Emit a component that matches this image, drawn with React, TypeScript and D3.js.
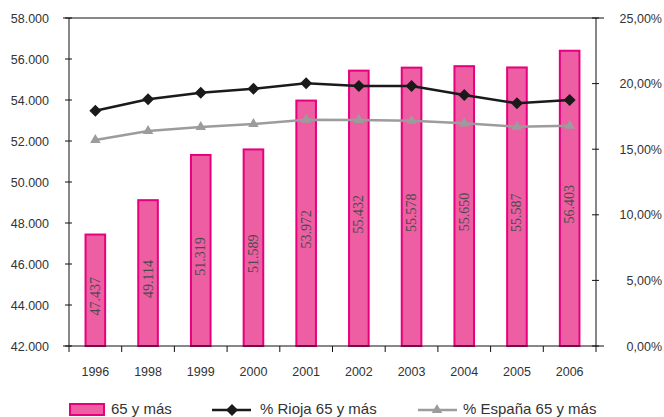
import React from "react";
import * as d3 from "d3";

const years = ["1996", "1998", "1999", "2000", "2001", "2002", "2003", "2004", "2005", "2006"];
const pop65 = [47437, 49114, 51319, 51589, 53972, 55432, 55578, 55650, 55587, 56403];
const rioja = [17.93, 18.8, 19.31, 19.61, 20.02, 19.82, 19.82, 19.13, 18.5, 18.75];
const espana = [15.7, 16.39, 16.69, 16.92, 17.25, 17.23, 17.17, 16.97, 16.72, 16.79];
const leftTicks = [42000, 44000, 46000, 48000, 50000, 52000, 54000, 56000, 58000];
const rightTicks = [0, 5, 10, 15, 20, 25];

const W = 664, H = 417;
const L = 69, R = 596, T = 18, B = 346;

const fmtThousands = (v: number) => {
  const s = Math.round(v).toString();
  return s.replace(/\B(?=(\d{3})+(?!\d))/g, ".");
};
const fmtPct = (v: number) => v.toFixed(2).replace(".", ",") + "%";

export default function App() {
  const x = d3.scaleBand<string>().domain(years).range([L, R]).paddingInner(0).paddingOuter(0);
  const yL = d3.scaleLinear().domain([42000, 58000]).range([B, T]);
  const yR = d3.scaleLinear().domain([0, 25]).range([B, T]);
  const bw = x.bandwidth() * 0.41;
  const cx = (y: string) => (x(y) as number) + x.bandwidth() / 2;

  const lineR = d3.line<number>().x((_, i) => cx(years[i])).y((d) => yR(d));
  const diamond = d3.symbol().type(d3.symbolSquare).size(72)();
  const tri = d3.symbol().type(d3.symbolTriangle).size(48)();

  const font = "'Liberation Sans', Arial, sans-serif";
  const textCol = "#333";
  const pinkFill = "#EE5EA2";
  const pinkStroke = "#E6007E";
  const grey = "#9c9c9c";

  return (
    <svg width={W} height={H} style={{ position: "absolute", left: 0, top: 0, background: "#fff" }}>
      {/* bars */}
      {pop65.map((v, i) => {
        const c = cx(years[i]);
        const top = yL(v);
        return (
          <g key={"b" + i}>
            <rect x={c - bw / 2 + 1} y={top} width={bw - 2} height={B - top} fill={pinkFill} stroke={pinkStroke} strokeWidth={2} />
            <text
              transform={`translate(${c + 4.5},${(top + B) / 2 + 6}) rotate(-90)`}
              textAnchor="middle"
              fontFamily="'Liberation Serif', 'Times New Roman', serif"
              fontSize={14}
              fill="#4a4a4a"
            >
              {fmtThousands(v)}
            </text>
          </g>
        );
      })}

      {/* frame / axes */}
      <line x1={L - 6} x2={R + 8} y1={T} y2={T} stroke="#111" strokeWidth={1} />
      <line x1={L - 6} x2={R + 8} y1={B} y2={B} stroke="#111" strokeWidth={1} />
      <line x1={L} x2={L} y1={T} y2={B + 6} stroke="#111" strokeWidth={1} />
      <line x1={R} x2={R} y1={T} y2={B + 6} stroke="#111" strokeWidth={1} />
      {years.slice(1).map((y) => (
        <line key={"xt" + y} x1={x(y) as number} x2={x(y) as number} y1={B} y2={B + 6} stroke="#111" />
      ))}
      {leftTicks.map((t) => (
        <g key={"lt" + t}>
          <line x1={L - 4} x2={L + 3} y1={yL(t)} y2={yL(t)} stroke="#111" />
          <text x={49} y={yL(t) + 4.5} textAnchor="end" fontFamily={font} fontSize={12.5} fill={textCol}>
            {fmtThousands(t)}
          </text>
        </g>
      ))}
      {rightTicks.map((t) => (
        <g key={"rt" + t}>
          <line x1={R - 4} x2={R + 3} y1={yR(t)} y2={yR(t)} stroke="#111" />
          <text x={662} y={yR(t) + 4.5} textAnchor="end" fontFamily={font} fontSize={12.5} fill={textCol}>
            {fmtPct(t)}
          </text>
        </g>
      ))}
      {years.map((y) => (
        <text key={"xl" + y} x={cx(y)} y={376} textAnchor="middle" fontFamily={font} fontSize={12.5} fill={textCol}>
          {y}
        </text>
      ))}

      {/* lines */}
      <path d={lineR(espana) || ""} fill="none" stroke={grey} strokeWidth={2.5} />
      {espana.map((v, i) => (
        <path key={"e" + i} d={tri || ""} transform={`translate(${cx(years[i])},${yR(v)})`} fill={grey} />
      ))}
      <path d={lineR(rioja) || ""} fill="none" stroke="#1a1a1a" strokeWidth={2.5} />
      {rioja.map((v, i) => (
        <path key={"r" + i} d={diamond || ""} transform={`translate(${cx(years[i])},${yR(v)}) rotate(45)`} fill="#1a1a1a" />
      ))}

      {/* legend */}
      <rect x={70} y={404} width={34} height={11} fill={pinkFill} stroke={pinkStroke} strokeWidth={2} />
      <text x={111} y={414} fontFamily={font} fontSize={15} fill={textCol}>65 y más</text>
      <line x1={212} x2={251} y1={410} y2={410} stroke="#1a1a1a" strokeWidth={2.5} />
      <path d={diamond || ""} transform="translate(232,410) rotate(45)" fill="#1a1a1a" />
      <text x={260} y={414} fontFamily={font} fontSize={15} fill={textCol}>% Rioja 65 y más</text>
      <line x1={418} x2={457} y1={410} y2={410} stroke={grey} strokeWidth={2.5} />
      <path d={tri || ""} transform="translate(437,410)" fill={grey} />
      <text x={463} y={414} fontFamily={font} fontSize={15} fill={textCol}>% España 65 y más</text>
    </svg>
  );
}
